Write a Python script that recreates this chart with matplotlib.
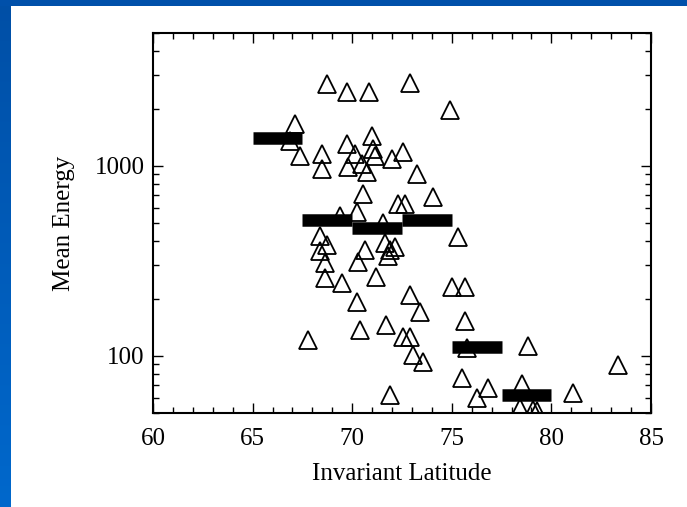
import numpy as np
import matplotlib
matplotlib.use("Agg")
import matplotlib.pyplot as plt
from matplotlib.ticker import LogLocator, NullFormatter, MultipleLocator, FixedLocator

# individual events (invariant latitude, mean energy)
lat = [68.73, 69.74, 70.84, 72.90, 74.91, 67.13, 66.88, 67.38, 68.48, 68.48,
       69.74, 69.79, 70.14, 70.49, 70.74, 70.99, 71.14, 71.04, 72.00, 72.55,
       73.25, 70.54, 74.06, 72.30, 72.65, 69.39, 70.24, 71.55, 75.31, 68.38,
       68.73, 68.38, 68.63, 68.63, 69.49, 70.24, 70.39, 67.78, 70.64, 70.29,
       71.20, 71.70, 71.65, 71.90, 72.15, 71.80, 75.01, 75.66, 72.90, 73.40,
       75.66, 72.55, 72.90, 73.05, 73.55, 75.76, 75.51, 76.82, 76.27, 71.90,
       78.83, 83.34, 81.08, 78.52, 78.42, 79.07, 79.27]
energy = [2706, 2455, 2455, 2740, 1973, 1662, 1352, 1125, 1153, 961,
          1303, 984, 1153, 1021, 926, 1436, 1125, 1225, 1084, 1182,
          904, 708, 682, 627, 627, 542, 569, 503, 420, 425,
          385, 354, 309, 258, 242, 192, 137, 121, 362, 313,
          261, 145, 394, 362, 376, 337, 231, 231, 210, 170,
          152, 126, 126, 101, 93, 110, 76, 68, 60, 62,
          112, 89, 64, 71, 53, 52, 51]

# binned means
bin_lo = [65.0, 67.5, 70.0, 72.5, 75.0, 77.5]
bin_hi = [67.5, 70.0, 72.5, 75.0, 77.5, 80.0]
bin_mean = [1400, 516, 468, 516, 111, 62]

plt.rcParams['font.family'] = ['Liberation Serif', 'DejaVu Serif']

fig = plt.figure(figsize=(6.87, 5.07), dpi=100)
fig.patch.set_facecolor('white')

# blue slide border (left strip with gradient, top strip)
strip = fig.add_axes([0, 0, 11 / 687, 1])
grad = np.linspace(0, 1, 256).reshape(-1, 1)
strip.imshow(grad, aspect='auto', cmap=matplotlib.colors.LinearSegmentedColormap.from_list(
    'b', ['#004fa6', '#0068cc']), origin='upper')
strip.axis('off')
top = fig.add_axes([0, 1 - 6 / 507, 1, 6 / 507])
top.set_facecolor('#0050aa')
top.set_xticks([])
top.set_yticks([])
for s in top.spines.values():
    s.set_visible(False)

ax = fig.add_axes([153 / 687, 1 - 413 / 507, 498 / 687, 380 / 507])
ax.plot(lat, energy, linestyle='none', marker='^', markersize=13,
        markerfacecolor='none', markeredgecolor='black', markeredgewidth=1.3)
ax.hlines(bin_mean, bin_lo, bin_hi, colors='black', linewidth=9, capstyle='butt')

ax.set_yscale('log')
ax.set_xlim(60, 85)
ax.set_ylim(50, 5000)

ax.xaxis.set_major_locator(MultipleLocator(5))
ax.xaxis.set_minor_locator(MultipleLocator(1))
ax.yaxis.set_major_locator(FixedLocator([100, 1000]))
ax.yaxis.set_minor_locator(LogLocator(base=10, subs=np.arange(2, 10)))
ax.yaxis.set_minor_formatter(NullFormatter())
ax.set_yticklabels(['100', '1000'])

ax.tick_params(which='both', direction='in', top=True, right=True,
               labelsize=18, width=1.0)
ax.tick_params(which='major', length=7)
ax.tick_params(which='minor', length=4)
ax.tick_params(axis='x', pad=11)
ax.tick_params(axis='y', pad=6)
for s in ax.spines.values():
    s.set_linewidth(1.5)

ax.set_xlabel('Invariant Latitude', fontsize=18, labelpad=9)
ax.set_ylabel('Mean Energy', fontsize=18, labelpad=14)

fig.savefig('out.png', dpi=100)
